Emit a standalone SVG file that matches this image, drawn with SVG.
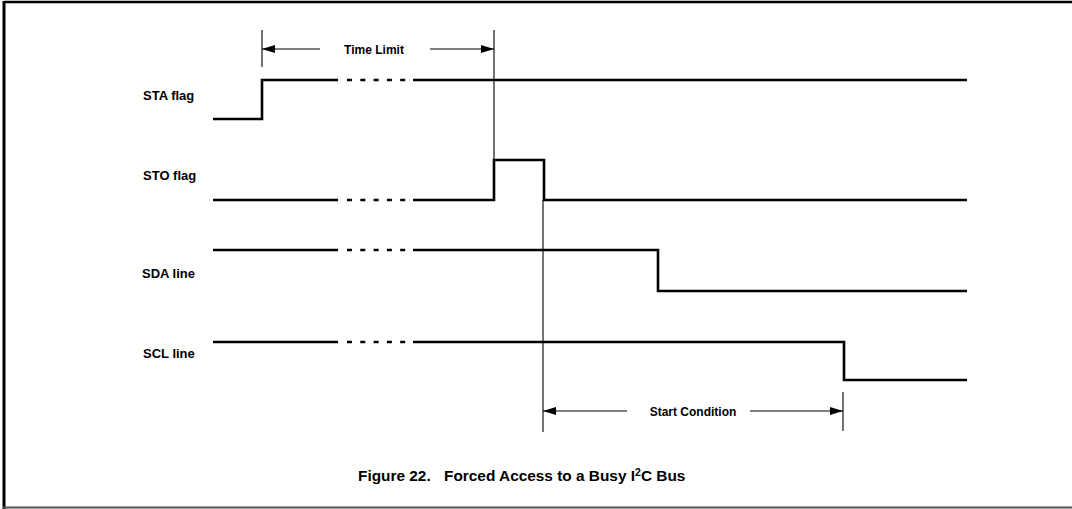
<svg xmlns="http://www.w3.org/2000/svg" width="1072" height="509" viewBox="0 0 1072 509">
<style>
.sig{fill:none;stroke:#000;stroke-width:2.6;stroke-linejoin:miter}
.dash{fill:none;stroke:#000;stroke-width:2.6;stroke-dasharray:5 8.3}
.thin{fill:none;stroke:#000;stroke-width:1.1}
.lbl{font-family:"Liberation Sans",Arial,sans-serif;font-weight:bold;font-size:12px;fill:#000}
.side{font-size:13px}
.cap{font-family:"Liberation Sans",Arial,sans-serif;font-weight:bold;font-size:15.4px;fill:#000}
</style>
<defs>
<marker id="ah" markerWidth="13" markerHeight="8" refX="13" refY="4" orient="auto-start-reverse" markerUnits="userSpaceOnUse">
<path d="M0,0 L13,4 L0,8 Z" fill="#000"/>
</marker>
</defs>
<rect width="1072" height="509" fill="#fff"/>
<g id="frame">
<line x1="4" y1="2" x2="1072" y2="2" stroke="#000" stroke-width="2.5"/>
<line x1="4" y1="1" x2="4" y2="509" stroke="#000" stroke-width="3"/>
<line x1="3" y1="507.5" x2="1072" y2="507.5" stroke="#555" stroke-width="2"/>
</g>
<g id="sta">
<text class="lbl side" x="143" y="100">STA flag</text>
<path class="sig" d="M213,119 H262 V80 H338"/>
<path class="dash" d="M347,80 H406"/>
<path class="sig" d="M413,80 H967"/>
</g>
<g id="sto">
<text class="lbl side" x="143" y="180">STO flag</text>
<path class="sig" d="M213,200 H338"/>
<path class="dash" d="M347,200 H406"/>
<path class="sig" d="M413,200 H494 V160 H544 V200 H967"/>
</g>
<g id="sda">
<text class="lbl side" x="142" y="278">SDA line</text>
<path class="sig" d="M213,250 H338"/>
<path class="dash" d="M347,250 H406"/>
<path class="sig" d="M413,250 H658 V291 H967"/>
</g>
<g id="scl">
<text class="lbl side" x="143" y="358">SCL line</text>
<path class="sig" d="M213,342 H338"/>
<path class="dash" d="M347,342 H406"/>
<path class="sig" d="M413,342 H844 V380 H967"/>
</g>
<g id="connectors">
<line class="thin" x1="262" y1="30" x2="262" y2="67"/>
<line class="thin" x1="494" y1="30" x2="494" y2="160"/>
<line class="thin" x1="320" y1="49" x2="262" y2="49" marker-end="url(#ah)"/>
<line class="thin" x1="430" y1="49" x2="494" y2="49" marker-end="url(#ah)"/>
<line class="thin" x1="543" y1="200" x2="543" y2="432"/>
<line class="thin" x1="843" y1="392" x2="843" y2="431"/>
<line class="thin" x1="627" y1="411" x2="543" y2="411" marker-end="url(#ah)"/>
<line class="thin" x1="750" y1="411" x2="843" y2="411" marker-end="url(#ah)"/>
</g>
<g id="time-limit-label"><text class="lbl" x="374" y="54" text-anchor="middle" font-size="12.4">Time Limit</text></g>
<g id="start-condition-label"><text class="lbl" x="693" y="416" text-anchor="middle" font-size="12.6">Start Condition</text></g>
<g id="caption"><text class="cap" x="358" y="481">Figure 22.<tspan x="444">Forced Access to a Busy I</tspan><tspan font-size="10.5" dy="-5">2</tspan><tspan dy="5">C Bus</tspan></text></g>
</svg>
